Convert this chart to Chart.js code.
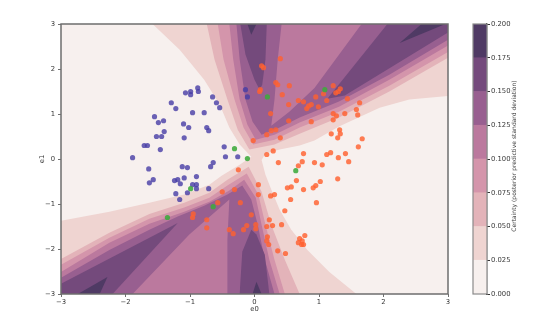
<!DOCTYPE html>
<html>
<head>
<meta charset="utf-8">
<script src="https://cdn.jsdelivr.net/npm/chart.js@4.4.1/dist/chart.umd.min.js"></script>
<style>
  body { margin: 0; background: #fff; }
  #wrap { position: relative; width: 539px; height: 326px; }
  #wrap canvas { position: absolute; top: 0; }
  #plot { left: 0; }
  #bar { left: 466px; }
</style>
</head>
<body>
<div id="wrap">
  <canvas id="plot" width="539" height="326"></canvas>
  <canvas id="bar" width="73" height="326"></canvas>
</div>
<script>
'use strict';
// ---- data ----
var xTicks = [-3, -2, -1, 0, 1, 2, 3];
var yTicks = [-3, -2, -1, 0, 1, 2, 3];
var levelEdges = [0, 0.025, 0.05, 0.075, 0.1, 0.125, 0.15, 0.175, 0.2];
var levelColors = ['#f7f0ee', '#efd4d1', '#e3b3b9', '#d495ab', '#bb799e', '#985f90', '#744a7c', '#4f3a64'];
var colorbarTitle = 'Certainty (posterior predictive standard deviation)';

// class 0 / class 1 / class 2 points (e0, e1)
var bluePoints = [[-0.14,1.54],[-0.11,1.38],[-0.88,1.58],[-1.07,1.47],[-0.99,1.50],[-0.99,1.43],[-0.87,1.50],
  [-1.29,1.25],[-1.22,1.12],[-0.65,1.38],[-0.59,1.25],[-0.54,1.14],[-0.96,1.03],[-0.78,1.03],[-1.55,0.94],
  [-1.49,0.81],[-1.41,0.85],[-1.10,0.78],[-1.02,0.70],[-0.74,0.70],[-0.71,0.63],[-1.52,0.50],[-1.44,0.50],
  [-1.40,0.61],[-1.09,0.47],[-1.71,0.30],[-1.66,0.30],[-1.46,0.21],[-0.47,0.27],[-1.89,0.03],[-0.45,0.05],
  [-0.26,0.05],[-0.64,-0.08],[-0.68,-0.17],[-1.64,-0.22],[-1.63,-0.53],[-1.57,-0.46],[-1.24,-0.48],[-1.19,-0.46],
  [-1.15,-0.55],[-1.09,-0.42],[-1.22,-0.77],[-1.16,-0.90],[-1.04,-0.75],[-0.96,-0.57],[-0.90,-0.57],[-0.90,-0.39],
  [-0.90,-0.66],[-0.71,-0.66],[-1.12,-0.17],[-1.04,-0.19]];
var orangePoints = [[0.11,2.07],[0.14,2.03],[0.40,2.23],[0.09,1.54],[0.08,1.50],[0.33,1.70],[0.36,1.65],[0.54,1.63],
  [0.43,1.43],[0.53,1.21],[0.68,1.30],[0.76,1.27],[0.84,1.18],[0.81,1.12],[0.88,1.21],[0.95,1.38],[0.25,1.01],
  [0.53,0.85],[0.88,0.83],[0.26,0.63],[0.33,0.65],[0.19,0.54],[0.40,0.47],[-0.02,0.41],[0.29,0.18],[0.19,0.10],
  [0.76,0.12],[0.99,1.16],[1.12,1.30],[1.22,1.63],[1.26,1.47],[1.30,1.50],[1.33,1.56],[1.44,1.34],[1.07,1.45],
  [1.63,1.25],[1.58,1.10],[1.60,0.98],[1.22,1.01],[1.27,0.96],[1.40,1.01],[1.22,0.87],[1.32,0.65],[1.19,0.56],
  [1.33,0.56],[1.29,0.47],[1.67,0.45],[1.61,0.27],[1.18,0.14],[1.12,0.10],[1.41,0.12],[1.30,0.03],[1.46,-0.06],
  [0.68,-0.15],[0.74,-0.06],[0.37,-0.08],[1.05,-0.13],[0.93,-0.08],[0.65,-0.48],[0.51,-0.64],[0.57,-0.62],
  [0.76,-0.68],[0.91,-0.64],[0.95,-0.59],[1.02,-0.50],[1.29,-0.44],[0.56,-0.90],[0.96,-0.97],[0.47,-1.15],
  [0.25,-0.82],[0.31,-0.79],[0.42,-1.46],[0.23,-1.35],[0.28,-1.48],[0.19,-1.50],[0.70,-1.77],[0.78,-1.70],
  [0.74,-1.82],[0.68,-1.86],[0.73,-1.90],[0.76,-1.90],[0.36,-2.04],[0.48,-2.10],[-0.25,-0.24],[0.06,-0.57],
  [0.06,-0.79],[-0.31,-0.68],[-0.50,-0.73],[-0.57,-0.97],[-0.22,-0.97],[-0.05,-1.24],[-0.95,-1.22],[-0.96,-1.30],
  [-0.74,-1.35],[-0.74,-1.53],[-0.12,-1.48],[0.02,-1.46],[0.02,-1.55],[-0.17,-1.57],[-0.39,-1.57],[-0.33,-1.66],
  [0.20,-1.73],[0.19,-1.82],[0.22,-1.90]];
var greenPoints = [[0.20,1.38],[-0.31,0.23],[-0.11,0.01],[1.09,1.54],[0.64,-0.26],[-0.99,-0.66],[-0.64,-1.06],[-1.35,-1.30]];

// contour outlines (e0, e1); plot is filled with level 1, then these are painted in order
var level0Left = [[-3,3],[-1.58,3],[-1.16,2.43],[-0.78,1.76],[-0.54,1.21],[-0.39,0.70],[-0.23,0.32],[-0.05,0.05],
  [-0.23,-0.13],[-0.51,-0.37],[-0.70,-0.57],[-1.09,-0.79],[-1.63,-0.97],[-2.25,-1.17],[-3,-1.37]];
var level0Right = [[0.11,-0.02],[0.17,0.12],[0.39,0.21],[0.70,0.30],[0.93,0.41],[1.31,0.72],[1.94,1.14],[2.40,1.32],
  [3,1.40],[3,-3],[1.58,-3],[1.16,-2.51],[0.82,-2.02],[0.57,-1.57],[0.39,-1.13],[0.26,-0.68],[0.17,-0.35]];
var level2Upper = [[-0.74,3],[-0.62,2.21],[-0.42,1.32],[-0.26,0.65],[-0.08,0.21],[0.31,0.32],[0.70,0.56],[1.31,0.92],[2.09,1.50],[3,2.25],[3,3]];
var level3Upper = [[-0.57,3],[-0.48,2.21],[-0.31,1.32],[-0.17,0.70],[-0.02,0.32],[0.31,0.43],[0.70,0.70],[1.31,1.05],[2.09,1.63],[3,2.38],[3,3]];
var level4Upper = [[-0.39,3],[-0.33,2.21],[-0.23,1.32],[-0.11,0.76],[0.02,0.43],[0.31,0.54],[0.70,0.81],[1.31,1.16],[2.09,1.76],[3,2.52],[3,3]];
var level5Upper = [[-0.28,3],[-0.23,2.21],[-0.14,1.32],[-0.03,0.83],[0.11,0.54],[0.39,0.70],[0.70,0.92],[1.31,1.28],[2.09,1.87],
  [3,2.65],[3,3],[1.66,3],[0.93,1.58],[0.54,1.05],[0.26,0.74],[0.31,1.32],[0.36,2.21],[0.42,3]];
var level6Top = [[-0.22,3],[0.19,3],[0.17,2.21],[0.12,1.65],[0.08,1.54],[0,1.76],[-0.14,2.32]];
var level6Diag = [[1.13,1.34],[2.06,3],[3,3],[3,2.81],[1.40,1.41]];
var level7Top = [[-0.11,3],[0.03,3],[-0.05,2.76]];
var level7Diag = [[2.25,2.58],[2.59,3],[2.96,3]];
var level2Lower = [[-3,-2.22],[-2.25,-1.64],[-1.63,-1.22],[-1.09,-0.97],[-0.70,-0.75],[-0.42,-0.46],[-0.09,-0.17],[0.11,-0.73],[0.26,-1.46],[0.47,-2.24],[0.70,-3],[-3,-3]];
var level3Lower = [[-3,-2.35],[-2.25,-1.75],[-1.63,-1.33],[-1.09,-1.08],[-0.70,-0.86],[-0.42,-0.59],[-0.12,-0.32],[0.06,-0.79],[0.17,-1.46],[0.31,-2.24],[0.47,-3],[-3,-3]];
var level4Lower = [[-3,-2.51],[-2.25,-1.86],[-1.63,-1.44],[-1.09,-1.17],[-0.70,-0.95],[-0.39,-0.70],[-0.16,-0.46],[0.02,-0.86],[0.11,-1.46],[0.23,-2.24],[0.39,-3],[-3,-3]];
var level5Lower = [[-3,-2.64],[-2.25,-2.02],[-1.63,-1.57],[-1.19,-1.28],[-0.78,-1.04],[-0.42,-0.79],[-0.19,-0.59],[-0.05,-0.90],[0.05,-1.46],
  [0.16,-2.24],[0.31,-3],[-0.42,-3],[-0.42,-1.79],[-0.39,-0.90],[-1.01,-1.68],[-1.89,-3],[-3,-3]];
var level6Left = [[-1.19,-1.42],[-3,-2.77],[-3,-3],[-2.20,-3]];
var level6Bottom = [[-0.05,-1.57],[-0.19,-2.06],[-0.23,-3],[0.23,-3],[0.16,-2.13],[0.03,-1.68]];
var level7Left = [[-2.28,-2.62],[-2.74,-3],[-2.40,-3]];
var level7Bottom = [[-0.03,-3],[0.03,-2.73],[0.11,-3]];

var contourBands = [
  {level: 0, shapes: [level0Left, level0Right]},
  {level: 2, shapes: [level2Upper, level2Lower]},
  {level: 3, shapes: [level3Upper, level3Lower]},
  {level: 4, shapes: [level4Upper, level4Lower]},
  {level: 5, shapes: [level5Upper, level5Lower]},
  {level: 6, shapes: [level6Top, level6Diag, level6Left, level6Bottom]},
  {level: 7, shapes: [level7Top, level7Diag, level7Left, level7Bottom]}
];

var pointColors = ['rgba(70,60,165,0.8)', 'rgba(255,96,48,0.82)', 'rgba(62,170,60,0.88)'];
var textColor = '#383838';
var spineColor = '#6e6e6e';
var tickFont = {family: 'DejaVu Sans', size: 6.8};
var titleFont = {family: 'DejaVu Sans', size: 6};

function toPoints(list){
  return list.map(function(p){ return {x: p[0], y: p[1]}; });
}
function minusSign(value){
  return String(value).replace('-', '\u2212');
}

// paint the filled contours under the points
var contourPlugin = {
  id: 'contours',
  beforeDatasetsDraw: function(chart){
    var ctx = chart.ctx;
    var area = chart.chartArea;
    var xs = chart.scales.x;
    var ys = chart.scales.y;
    ctx.save();
    ctx.beginPath();
    ctx.rect(area.left, area.top, area.right - area.left, area.bottom - area.top);
    ctx.clip();
    ctx.fillStyle = levelColors[1];
    ctx.fillRect(area.left, area.top, area.right - area.left, area.bottom - area.top);
    contourBands.forEach(function(band){
      ctx.fillStyle = levelColors[band.level];
      band.shapes.forEach(function(shape){
        ctx.beginPath();
        shape.forEach(function(p, i){
          var px = xs.getPixelForValue(p[0]);
          var py = ys.getPixelForValue(p[1]);
          if(i === 0){ ctx.moveTo(px, py); } else { ctx.lineTo(px, py); }
        });
        ctx.closePath();
        ctx.fill();
      });
    });
    ctx.restore();
  }
};

var framePlugin = {
  id: 'frame',
  afterDatasetsDraw: function(chart){
    var a = chart.chartArea;
    var ctx = chart.ctx;
    ctx.save();
    ctx.strokeStyle = spineColor;
    ctx.lineWidth = 1.5;
    ctx.strokeRect(a.left, a.top, a.right - a.left, a.bottom - a.top);
    ctx.restore();
  }
};

var plotChart = new Chart(document.getElementById('plot').getContext('2d'), {
  type: 'scatter',
  data: {
    datasets: [
      {label: 'green', data: toPoints(greenPoints), backgroundColor: pointColors[2], pointBackgroundColor: pointColors[2], pointRadius: 2.6, pointBorderWidth: 0},
      {label: 'orange', data: toPoints(orangePoints), backgroundColor: pointColors[1], pointBackgroundColor: pointColors[1], pointRadius: 2.6, pointBorderWidth: 0},
      {label: 'blue', data: toPoints(bluePoints), backgroundColor: pointColors[0], pointBackgroundColor: pointColors[0], pointRadius: 2.6, pointBorderWidth: 0}
    ]
  },
  options: {
    responsive: false,
    animation: false,
    devicePixelRatio: 1,
    layout: {padding: {left: 0, top: 24, right: 91, bottom: 0}},
    plugins: {legend: {display: false}, tooltip: {enabled: false}},
    scales: {
      x: {
        type: 'linear', min: -3, max: 3,
        afterBuildTicks: function(scale){ scale.ticks = xTicks.map(function(v){ return {value: v}; }); },
        afterFit: function(scale){ scale.height = 32; },
        grid: {drawOnChartArea: false, tickLength: 3, color: spineColor},
        border: {display: false},
        ticks: {font: tickFont, color: textColor, padding: 1, maxRotation: 0, autoSkip: false, callback: minusSign},
        title: {display: true, text: 'e0', font: tickFont, color: textColor, padding: {top: 0, bottom: 13}}
      },
      y: {
        type: 'linear', min: -3, max: 3,
        afterBuildTicks: function(scale){ scale.ticks = yTicks.map(function(v){ return {value: v}; }); },
        afterFit: function(scale){ scale.width = 61; },
        grid: {drawOnChartArea: false, tickLength: 3, color: spineColor},
        border: {display: false},
        ticks: {font: tickFont, color: textColor, padding: 3, autoSkip: false, callback: minusSign},
        title: {display: true, text: 'e1', font: tickFont, color: textColor, padding: {top: 38, bottom: 0}}
      }
    }
  },
  plugins: [contourPlugin, framePlugin]
});

// colorbar: one stacked bar per contour level
var outlinePlugin = {
  id: 'outline',
  afterDatasetsDraw: function(chart){
    var a = chart.chartArea;
    var ctx = chart.ctx;
    ctx.save();
    ctx.strokeStyle = '#8a8a8a';
    ctx.lineWidth = 1.2;
    ctx.strokeRect(a.left, a.top, a.right - a.left, a.bottom - a.top);
    ctx.restore();
  }
};
var cbTitlePlugin = {
  id: 'cbTitle',
  afterDraw: function(chart){
    var a = chart.chartArea;
    var ctx = chart.ctx;
    ctx.save();
    ctx.translate(48, (a.top + a.bottom) / 2 - 3);
    ctx.rotate(-Math.PI / 2);
    ctx.font = titleFont.size + 'px "' + titleFont.family + '"';
    ctx.fillStyle = textColor;
    ctx.textAlign = 'center';
    ctx.textBaseline = 'middle';
    ctx.fillText(colorbarTitle, 0, 0);
    ctx.restore();
  }
};

var barChart = new Chart(document.getElementById('bar').getContext('2d'), {
  type: 'bar',
  data: {
    labels: [''],
    datasets: levelColors.map(function(color, i){
      return {data: [levelEdges[i + 1] - levelEdges[i]], backgroundColor: color, borderWidth: 0, barPercentage: 1, categoryPercentage: 1};
    })
  },
  options: {
    responsive: false,
    animation: false,
    devicePixelRatio: 1,
    layout: {padding: {left: 7, top: 24, right: 0, bottom: 32}},
    plugins: {legend: {display: false}, tooltip: {enabled: false}},
    scales: {
      x: {stacked: true, display: false},
      y: {
        stacked: true, position: 'right', min: 0, max: 0.2,
        afterBuildTicks: function(scale){ scale.ticks = levelEdges.map(function(v){ return {value: v}; }); },
        afterFit: function(scale){ scale.width = 52; },
        grid: {drawOnChartArea: false, tickLength: 3, color: '#333'},
        border: {display: true, color: '#222', width: 1.2},
        ticks: {font: tickFont, color: textColor, padding: 1, autoSkip: false, callback: function(v){ return Number(v).toFixed(3); }}
      }
    }
  },
  plugins: [outlinePlugin, cbTitlePlugin]
});
</script>
</body>
</html>
